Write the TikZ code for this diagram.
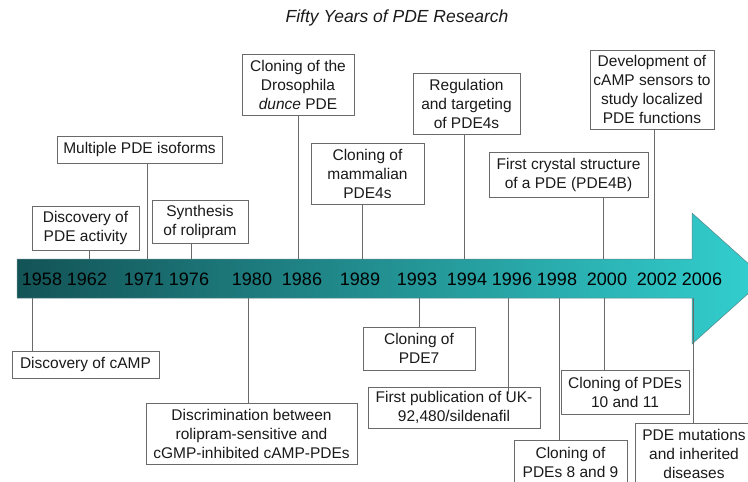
\documentclass[tikz,border=0pt]{standalone}
\usepackage{fontspec}
\setmainfont{Liberation Sans}
\definecolor{arrowdark}{HTML}{135356}
\definecolor{arrowlight}{HTML}{33D0D0}
\definecolor{boxline}{HTML}{6A6A6A}
\definecolor{txt}{HTML}{1A1A1A}
\begin{document}
\begin{tikzpicture}[x=1pt,y=-1pt,
  evbox/.style={draw=boxline, line width=0.8pt, fill=white, text=txt, align=center,
    inner sep=0pt, font=\fontsize{15.5}{19}\selectfont},
  conn/.style={draw=boxline, line width=0.8pt},
  yr/.style={text=black, font=\fontsize{18}{20}\selectfont, inner sep=0pt}]
\clip (0,0) rectangle (748,482);
\fill[white] (0,0) rectangle (748,482);
% title
\node[text=txt, font=\fontsize{17.5}{20}\selectfont\itshape] (title) at (397,18) {Fifty Years of PDE Research};
% arrow
\shade[left color=arrowdark, right color=arrowlight, draw=arrowdark!70, line width=0.5pt]
  (17,259) -- (692,259) -- (692,213) -- (765,278.5) -- (692,344) -- (692,298) -- (17,298) -- cycle;
% years
\foreach \yy/\xx in {1958/42,1962/87,1971/144,1976/189,1980/252,1986/302,1989/360,1993/417,1994/467,1996/512,1998/557,2000/607,2002/657,2006/702}
  \node[yr] (y\yy) at (\xx,279) {\yy};
% anchor coordinates on the arrow
\coordinate (tA) at (89,259);
\coordinate (tB) at (147,259);
\coordinate (tC) at (191,259);
\coordinate (tD) at (298,259);
\coordinate (tE) at (362,259);
\coordinate (tF) at (464,259);
\coordinate (tG) at (603,259);
\coordinate (tH) at (654,259);
\coordinate (bA) at (32,298);
\coordinate (bB) at (248,298);
\coordinate (bC) at (419,298);
\coordinate (bD) at (508,298);
\coordinate (bE) at (559,298);
\coordinate (bF) at (604,298);
\coordinate (bG) at (693,298);
% top boxes
\node[evbox, minimum width=107, minimum height=44] (act) at (85.5,228) {Discovery of\\PDE activity};
\node[evbox, minimum width=165, minimum height=27] (iso) at (139.5,149.5) {Multiple PDE isoforms};
\node[evbox, minimum width=96, minimum height=43] (roli) at (200,221.5) {Synthesis\\of rolipram};
\node[evbox, minimum width=112, minimum height=61] (dunce) at (298,84.5) {Cloning of the\\Drosophila\\\textit{dunce} PDE};
\node[evbox, minimum width=113, minimum height=61] (mam) at (367.5,173.5) {Cloning of\\mammalian\\PDE4s};
\node[evbox, minimum width=107, minimum height=61] (reg) at (466.5,103.5) {Regulation\\and targeting\\of PDE4s};
\node[evbox, minimum width=159, minimum height=45] (cryst) at (568.5,174.5) {First crystal structure\\of a PDE (PDE4B)};
\node[evbox, minimum width=124, minimum height=79] (sens) at (652,89.5) {Development of\\cAMP sensors to\\study localized\\PDE functions};
% bottom boxes
\node[evbox, minimum width=147, minimum height=27] (camp) at (85.5,364.5) {Discovery of cAMP};
\node[evbox, minimum width=211, minimum height=61] (disc) at (251.5,433.5) {Discrimination between\\rolipram-sensitive and\\cGMP-inhibited cAMP-PDEs};
\node[evbox, minimum width=112, minimum height=43] (pde7) at (419,348.5) {Cloning of\\PDE7};
\node[evbox, minimum width=172, minimum height=41] (uk) at (454,407.5) {First publication of UK-\\92,480/sildenafil};
\node[evbox, minimum width=113, minimum height=44] (p89) at (570.5,462) {Cloning of\\PDEs 8 and 9};
\node[evbox, minimum width=128, minimum height=44] (p1011) at (625,392) {Cloning of PDEs\\10 and 11};
\node[evbox, minimum width=118, minimum height=61] (mut) at (694,453.5) {PDE mutations\\and inherited\\diseases};
% connectors
\draw[conn] (act.south -| tA) -- (tA);
\draw[conn] (iso.south -| tB) -- (tB);
\draw[conn] (roli.south -| tC) -- (tC);
\draw[conn] (dunce.south -| tD) -- (tD);
\draw[conn] (mam.south -| tE) -- (tE);
\draw[conn] (reg.south -| tF) -- (tF);
\draw[conn] (cryst.south -| tG) -- (tG);
\draw[conn] (sens.south -| tH) -- (tH);
\draw[conn] (bA) -- (camp.north -| bA);
\draw[conn] (bB) -- (disc.north -| bB);
\draw[conn] (bC) -- (pde7.north -| bC);
\draw[conn] (bD) -- ([yshift=-7pt]uk.north -| bD);
\draw[conn] (bE) -- (p89.north -| bE);
\draw[conn] (bF) -- (p1011.north -| bF);
\draw[conn] (bG) -- (mut.north -| bG);
\end{tikzpicture}
\end{document}
